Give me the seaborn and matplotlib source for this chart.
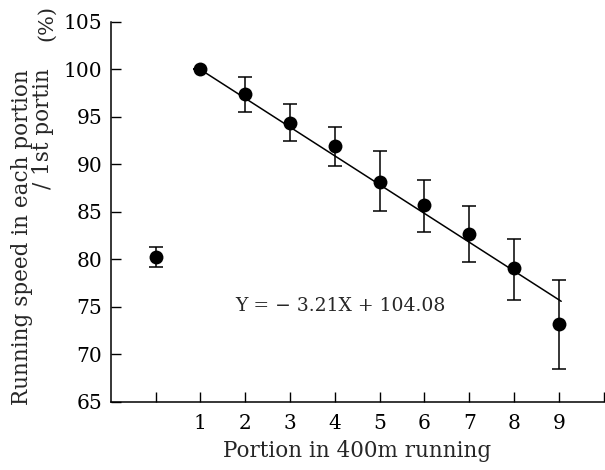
import matplotlib
matplotlib.use("Agg")
import matplotlib.pyplot as plt
import seaborn as sns
import pandas as pd

portion = [0, 1, 2, 3, 4, 5, 6, 7, 8, 9]
speed = [80.3, 100.0, 97.4, 94.4, 91.9, 88.2, 85.7, 82.7, 79.1, 73.2]
err_low = [1.1, 0.0, 1.9, 1.9, 2.1, 3.1, 2.8, 3.0, 3.4, 4.7]
err_high = [1.0, 0.0, 1.8, 2.0, 2.0, 3.2, 2.7, 2.9, 3.1, 4.6]
fit_x = [1.0, 9.05]
fit_y = [100.0, 75.6]
eq_text = "Y = − 3.21X + 104.08"
xticks = list(range(0, 11))
xticklabels = ["", "1", "2", "3", "4", "5", "6", "7", "8", "9", ""]
yticks = [65, 70, 75, 80, 85, 90, 95, 100, 105]

sns.set_theme(style="ticks")
plt.rcParams['font.family'] = ['DejaVu Serif', 'Liberation Serif']

fig = plt.figure(figsize=(6.05, 4.70), dpi=100)
ax = fig.add_axes([0.183, 0.1447, 0.815, 0.8085])

df = pd.DataFrame({"x": portion, "y": speed})
fit_df = pd.DataFrame({"x": fit_x, "y": fit_y})

ax.errorbar(portion, speed, yerr=[err_low, err_high], fmt="none",
            ecolor="black", elinewidth=1.1, capsize=4.7, capthick=1.1, zorder=2)
sns.lineplot(data=fit_df, x="x", y="y", color="black", linewidth=1.1, ax=ax, zorder=2)
sns.scatterplot(data=df, x="x", y="y", color="black", s=100, edgecolor="black",
                linewidth=0, ax=ax, zorder=3)

ax.set_xlim(-1, 10)
ax.set_ylim(65, 105)
ax.set_xticks(xticks)
ax.set_xticklabels(xticklabels)
ax.set_yticks(yticks)
ax.tick_params(direction="in", length=7, width=1, labelsize=14.5, colors="black")
ax.tick_params(axis="x", pad=9)
ax.tick_params(axis="y", pad=6)
for s in ["top", "right"]:
    ax.spines[s].set_visible(False)
for s in ["left", "bottom"]:
    ax.spines[s].set_linewidth(1.1)
    ax.spines[s].set_color("black")

ax.set_xlabel("Portion in 400m running", fontsize=15.5, labelpad=5)
ax.set_ylabel("")

fig.text(22 / 605, 1 - 237 / 470, "Running speed in each portion", rotation=90,
         ha="center", va="center", fontsize=15.5)
fig.text(43 / 605, 1 - 129 / 470, "/ 1st portin", rotation=90,
         ha="center", va="center", fontsize=15.5)
fig.text(47 / 605, 1 - 23 / 470, "(%)", rotation=90,
         ha="center", va="center", fontsize=15)

ax.text(1.78, 75.15, eq_text, ha="left", va="center", fontsize=13.5)

fig.savefig("out.png", dpi=100)
